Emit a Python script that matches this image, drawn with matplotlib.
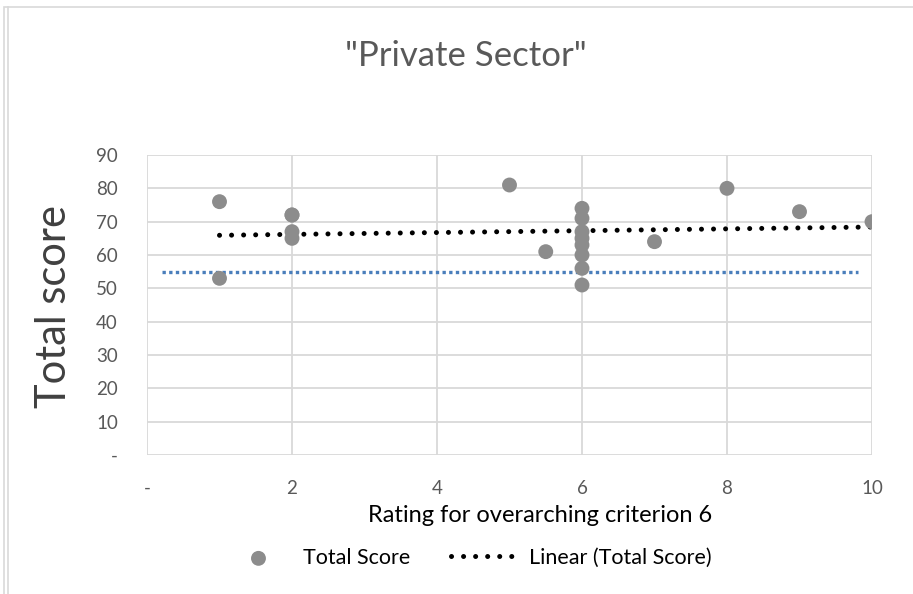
import numpy as np
import matplotlib
matplotlib.use("Agg")
import matplotlib.pyplot as plt
from matplotlib.patches import Rectangle

plt.rcParams['font.family'] = ['Lato', 'DejaVu Sans']

# Ratings and total scores (overlapping markers included)
rating = [1, 1, 2, 2, 2, 2, 5, 5.5, 6, 6, 6, 6, 6, 6, 6, 6, 7, 8, 9, 10]
total_score = [76, 53, 72, 72, 67, 65, 81, 61, 74, 71, 67, 65, 63, 60, 56, 51, 64, 80, 73, 70]

# Reference level and its span
threshold = 55
threshold_span = [0.2, 9.8]

x_ticks = [0, 2, 4, 6, 8, 10]
x_tick_labels = ['-', '2', '4', '6', '8', '10']
y_ticks = [0, 10, 20, 30, 40, 50, 60, 70, 80, 90]
y_tick_labels = ['-', '10', '20', '30', '40', '50', '60', '70', '80', '90']

W, H = 913, 594
fig = plt.figure(figsize=(W / 100, H / 100), dpi=100)
ax = fig.add_axes([147 / W, 1 - 455 / H, 725 / W, 300 / H])

# chart border
fig.add_artist(Rectangle((4 / W, -0.01), 1.0, 1 - 7 / H + 0.01, transform=fig.transFigure,
                         fill=False, edgecolor='#d9d9d9', lw=1.2))
fig.add_artist(plt.Line2D([8 / W, 8 / W], [0, 1 - 7 / H], transform=fig.transFigure,
                          color='#d9d9d9', lw=1.2))

ax.set_xlim(0, 10)
ax.set_ylim(0, 90)
ax.set_xticks(x_ticks)
ax.set_xticklabels(x_tick_labels)
ax.set_yticks(y_ticks)
ax.set_yticklabels(y_tick_labels)
ax.grid(True, color='#d9d9d9', lw=1.3)
ax.set_axisbelow(True)
for s in ax.spines.values():
    s.set_visible(False)
ax.tick_params(length=0, labelsize=13.5, colors='#595959')
ax.tick_params(axis='y', pad=21)
ax.tick_params(axis='x', pad=18)

# threshold line
ax.plot(threshold_span, [threshold, threshold], color='#4a7ebb', lw=2.4,
        linestyle=(0, (1, 1)), dash_capstyle='butt', zorder=2)

# linear trend of the total score
coef = np.polyfit(rating, total_score, 1)
xs = np.array([min(rating), max(rating)])
ax.plot(xs, np.polyval(coef, xs), color='black', lw=3.6, linestyle=(0, (0.01, 2.4)),
        dash_capstyle='round', zorder=3, label='Linear (Total Score)')

ax.scatter(rating, total_score, s=115, color='#8c8c8c', edgecolors='none', zorder=4,
           label='Total Score')

fig.text(540 / W, 1 - 516 / H, 'Rating for overarching criterion 6', ha='center', va='center',
         fontsize=17, color='black')
fig.text(54 / W, 1 - 307 / H, 'Total score', ha='center', va='center', rotation=90,
         fontsize=30, color='#404040')
fig.text(466 / W, 1 - 56 / H, '"Private Sector"', ha='center', va='center', fontsize=25,
         color='#595959')

h, l = ax.get_legend_handles_labels()
fig.legend([h[1], h[0]], [l[1], l[0]], loc='center', bbox_to_anchor=(468 / W, 1 - 558 / H),
           ncol=2, frameon=False, fontsize=15.5, handlelength=3.2, columnspacing=1.9,
           handletextpad=0.45)

fig.savefig('out.png', dpi=100)
